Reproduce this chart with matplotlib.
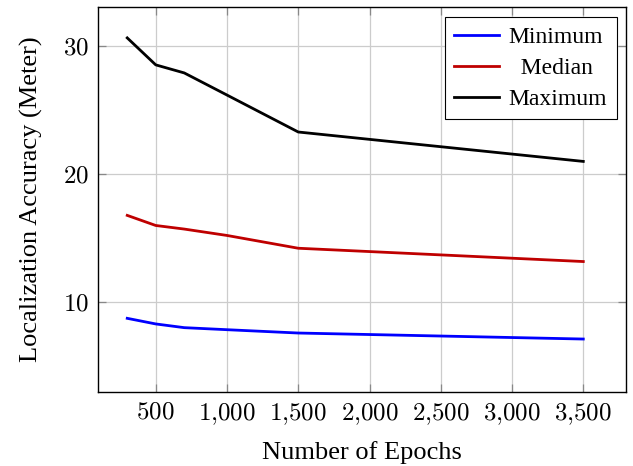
import matplotlib
matplotlib.use("Agg")
import matplotlib.pyplot as plt
from matplotlib.ticker import FuncFormatter, FixedLocator

epochs = [300, 500, 700, 1000, 1500, 3500]
minimum = [8.72, 8.28, 7.99, 7.83, 7.57, 7.10]
median = [16.77, 15.98, 15.70, 15.20, 14.20, 13.16]
maximum = [30.65, 28.54, 27.91, 26.18, 23.29, 20.99]
xticks = [500, 1000, 1500, 2000, 2500, 3000, 3500]
yticks = [10, 20, 30]

plt.rcParams['font.family'] = ['Liberation Serif', 'DejaVu Serif']
plt.rcParams['mathtext.fontset'] = 'cm'

fig = plt.figure(figsize=(6.33, 4.66), dpi=100)
ax = fig.add_axes([0.1553, 0.1594, 0.989 - 0.1553, 0.984 - 0.1594])

ax.plot(epochs, minimum, color='#0000ff', lw=2.0, label='Minimum')
ax.plot(epochs, median, color='#bf0000', lw=2.0, label='  Median')
ax.plot(epochs, maximum, color='black', lw=2.0, label='Maximum')

ax.set_xlim(97, 3800)
ax.set_ylim(2.98, 33.03)
ax.xaxis.set_major_locator(FixedLocator(xticks))
ax.yaxis.set_major_locator(FixedLocator(yticks))
ax.xaxis.set_major_formatter(FuncFormatter(lambda v, p: "$" + f"{int(v):,}".replace(",", "{,}") + "$"))
ax.yaxis.set_major_formatter(FuncFormatter(lambda v, p: f"${int(v)}$"))
ax.grid(True, color='#cccccc', lw=0.9)
ax.set_axisbelow(True)
ax.tick_params(direction='in', length=6, width=0.9, color='#888888',
               top=True, right=True, labelsize=18, pad=7)
for s in ax.spines.values():
    s.set_linewidth(1.0)
    s.set_color('black')

ax.set_xlabel('Number of Epochs', fontsize=19, labelpad=10)
ax.set_ylabel('Localization Accuracy (Meter)', fontsize=19, labelpad=14)

leg = ax.legend(loc='upper right', fontsize=17, frameon=True, fancybox=False,
                edgecolor='black', framealpha=1, borderpad=0.4, handlelength=1.9,
                handletextpad=0.4, labelspacing=0.4, borderaxespad=0.4)
leg.get_frame().set_linewidth(0.8)

fig.savefig('out.png', dpi=100)
